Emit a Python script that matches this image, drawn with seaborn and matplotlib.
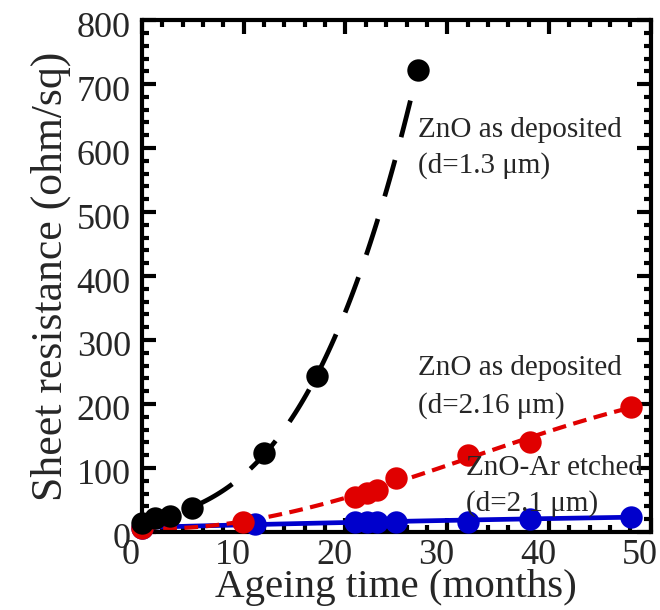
import numpy as np
import pandas as pd
import matplotlib
matplotlib.use("Agg")
import matplotlib.pyplot as plt
import seaborn as sns
from matplotlib.ticker import MultipleLocator
from matplotlib.transforms import ScaledTranslation

# ---- data ----
t_black = [0.0, 1.3, 2.8, 4.9, 12.0, 17.2, 27.1]
r_black = [14, 21, 25, 37, 123, 244, 722]

t_red = [0.0, 9.9, 20.9, 22.1, 23.1, 25.0, 32.0, 38.1, 48.1]
r_red = [6, 16, 55, 61, 66, 84, 120, 141, 196]

t_blue = [0.0, 11.1, 20.9, 22.1, 23.1, 25.0, 32.0, 38.1, 48.1]
r_blue = [6, 13, 16, 16, 16, 16, 16, 20, 24]

labels_black = ["ZnO as deposited", "(d=1.3 \u03bcm)"]
labels_red = ["ZnO as deposited", "(d=2.16 \u03bcm)"]
labels_blue = ["ZnO-Ar etched", "(d=2.1 \u03bcm)"]

x_ticks = [0, 10, 20, 30, 40, 50]
y_ticks = [0, 100, 200, 300, 400, 500, 600, 700, 800]

BLACK = "#000000"
RED = "#e00000"
BLUE = "#0000cc"

sns.set_theme(style="ticks")
plt.rcParams["font.family"] = ["Liberation Serif", "DejaVu Serif"]

fig = plt.figure(figsize=(6.6, 6.1), dpi=100)
ax = fig.add_axes([0.215, 0.128, 0.771, 0.839])

df_b = pd.DataFrame({"t": t_black, "r": r_black})
df_r = pd.DataFrame({"t": t_red, "r": r_red})
df_u = pd.DataFrame({"t": t_blue, "r": r_blue})

# fit lines
sns.regplot(data=df_u, x="t", y="r", order=2, ci=None, scatter=False, ax=ax,
            line_kws=dict(color=BLUE, lw=3.4, solid_capstyle="butt"))
sns.regplot(data=df_r, x="t", y="r", order=3, ci=None, scatter=False, ax=ax,
            line_kws=dict(color=RED, lw=3.0, dashes=(3.3, 1.8)))
sns.regplot(data=df_b, x="t", y="r", order=3, ci=None, scatter=False, ax=ax,
            line_kws=dict(color=BLACK, lw=3.4, dashes=(8, 5)))

# markers
ms = 260
sns.scatterplot(data=df_u, x="t", y="r", color=BLUE, s=ms, linewidth=0, ax=ax,
                zorder=3, clip_on=False)
sns.scatterplot(data=df_r, x="t", y="r", color=RED, s=ms, linewidth=0, ax=ax,
                zorder=4, clip_on=False)
sns.scatterplot(data=df_b, x="t", y="r", color=BLACK, s=ms, linewidth=0, ax=ax,
                zorder=5, clip_on=False)

ax.set_xlim(0, 50)
ax.set_ylim(0, 800)
ax.set_xticks(x_ticks)
ax.set_yticks(y_ticks)
ax.xaxis.set_minor_locator(MultipleLocator(2))
ax.yaxis.set_minor_locator(MultipleLocator(20))
ax.tick_params(which="both", direction="in", top=True, right=True, width=3,
               color="black")
ax.tick_params(which="major", length=10, labelsize=26, pad=5)
ax.tick_params(axis="y", which="major", pad=8)
ax.tick_params(which="minor", length=5)
for sp in ax.spines.values():
    sp.set_linewidth(3)
    sp.set_color("black")
    sp.set_visible(True)

ax.set_xlabel("Ageing time (months)", fontsize=29.5, labelpad=-2)
ax.set_ylabel("Sheet resistance (ohm/sq)", fontsize=31.5, labelpad=4)

fs = 21
ax.text(27.1, 628, labels_black[0], fontsize=fs, ha="left", va="center")
ax.text(27.1, 573, labels_black[1], fontsize=fs, ha="left", va="center")
ax.text(27.1, 256, labels_red[0], fontsize=fs, ha="left", va="center")
ax.text(27.1, 198, labels_red[1], fontsize=fs, ha="left", va="center")
ax.text(31.8, 100, labels_blue[0], fontsize=fs, ha="left", va="center", zorder=6)
ax.text(31.8, 45, labels_blue[1], fontsize=fs, ha="left", va="center", zorder=6)

fig.canvas.draw()
offx = ScaledTranslation(-11 / 100, 0, fig.dpi_scale_trans)
for lab in ax.get_xticklabels():
    lab.set_transform(lab.get_transform() + offx)
offy = ScaledTranslation(0, -4 / 100, fig.dpi_scale_trans)
for lab in ax.get_yticklabels():
    lab.set_transform(lab.get_transform() + offy)

fig.savefig("out.png", dpi=100)
